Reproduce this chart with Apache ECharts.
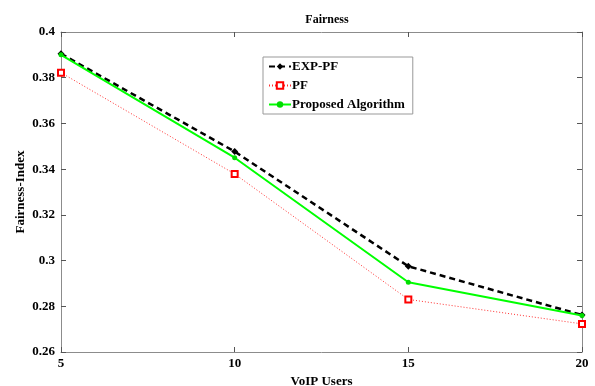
<!DOCTYPE html>
<html>
<head>
<meta charset="utf-8">
<script src="https://cdn.jsdelivr.net/npm/echarts@6/dist/echarts.min.js"></script>
<style>html,body{margin:0;padding:0;background:#fff}#c{width:595px;height:386px}</style>
</head>
<body>
<div id="c"></div>
<script>
var users = [5, 10, 15, 20];
var expPF = [0.3905, 0.3477, 0.2975, 0.2762];
var pf = [0.3822, 0.3379, 0.2830, 0.2723];
var proposed = [0.3900, 0.3450, 0.2905, 0.2760];
var seriesNames = ['EXP-PF', 'PF', 'Proposed Algorithm'];

function pairs(xs, ys) { return xs.map(function (x, i) { return [x, ys[i]]; }); }

var font = 'Liberation Serif';
var axisGray = '#8c8c8c';
var chart = echarts.init(document.getElementById('c'));
var baseAxis = {
  axisLine: { show: true, lineStyle: { color: axisGray, width: 1 } },
  axisTick: { show: true, inside: true, length: 5, lineStyle: { color: '#555' } },
  splitLine: { show: false }
};
chart.setOption({
  animation: false,
  backgroundColor: '#fff',
  title: {
    text: 'Fairness', left: 322, top: 9, textAlign: 'center',
    textStyle: { fontFamily: font, fontWeight: 'bold', fontSize: 12, color: '#000' }
  },
  grid: { left: 61, right: 13, top: 32, bottom: 34, outerBoundsMode: 'none', containLabel: false },
  legend: {
    orient: 'vertical', left: 263, top: 57,
    width: 150,
    data: seriesNames,
    itemWidth: 22, itemHeight: 8, itemGap: 6,
    padding: [3, 8, 3, 5],
    borderColor: '#999', borderWidth: 1, backgroundColor: '#fff',
    textStyle: { fontFamily: font, fontWeight: 'bold', fontSize: 13, color: '#000', padding: [0, 0, 0, -4] }
  },
  xAxis: [
    Object.assign({}, baseAxis, {
      type: 'value', min: 5, max: 20, interval: 5,
      name: 'VoIP Users', nameLocation: 'middle', nameGap: 16,
      nameTextStyle: { fontFamily: font, fontWeight: 'bold', fontSize: 13, color: '#000' },
      axisLabel: { fontFamily: font, fontWeight: 'bold', fontSize: 13, color: '#000', margin: 5 }
    }),
    Object.assign({}, baseAxis, {
      type: 'value', min: 5, max: 20, interval: 5, position: 'top',
      axisLabel: { show: false }
    })
  ],
  yAxis: [
    Object.assign({}, baseAxis, {
      type: 'value', min: 0.26, max: 0.4, interval: 0.02,
      name: 'Fairness-Index', nameLocation: 'middle', nameGap: 34, nameMoveOverlap: false,
      nameTextStyle: { fontFamily: font, fontWeight: 'bold', fontSize: 13, color: '#000' },
      axisLabel: { fontFamily: font, fontWeight: 'bold', fontSize: 13, color: '#000', margin: 6 }
    }),
    Object.assign({}, baseAxis, {
      type: 'value', min: 0.26, max: 0.4, interval: 0.02, position: 'right',
      axisLabel: { show: false }
    })
  ],
  series: [
    {
      name: seriesNames[0], type: 'line', data: pairs(users, expPF), z: 3,
      symbol: 'diamond', symbolSize: 7,
      lineStyle: { color: '#000', width: 2.5, type: [6, 4] },
      itemStyle: { color: '#000' }
    },
    {
      name: seriesNames[1], type: 'line', data: pairs(users, pf), z: 2,
      symbol: 'rect', symbolSize: 6,
      lineStyle: { color: '#ff3030', width: 1, type: [1, 2] },
      itemStyle: { color: '#fff', borderColor: '#ff0000', borderWidth: 2 }
    },
    {
      name: seriesNames[2], type: 'line', data: pairs(users, proposed), z: 4,
      symbol: 'circle', symbolSize: 5,
      lineStyle: { color: '#00ff00', width: 2 },
      itemStyle: { color: '#00dd00' }
    }
  ]
});
</script>
</body>
</html>
